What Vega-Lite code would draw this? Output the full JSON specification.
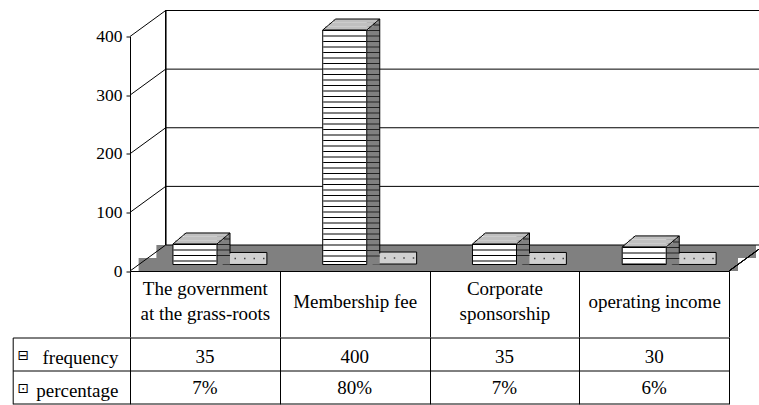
{
  "$schema": "https://vega.github.io/schema/vega-lite/v6.json",
  "background": "white",
  "padding": {"left": 12, "top": 8.5, "right": 0, "bottom": 0},
  "autosize": {"type": "pad"},
  "config": {"view": {"stroke": null}, "font": "Liberation Serif, Times New Roman, Times, serif"},
  "datasets": {
    "main": [
      {"category": "The government at the grass-roots", "freq": 35, "pct": 0.07},
      {"category": "Membership fee", "freq": 400, "pct": 0.8},
      {"category": "Corporate sponsorship", "freq": 35, "pct": 0.07},
      {"category": "operating income", "freq": 30, "pct": 0.06}
    ],
    "grid": [{"v": 0}, {"v": 100}, {"v": 200}, {"v": 300}, {"v": 400}]
  },
  "bounds": "flush",
  "spacing": 66,
  "vconcat": [
    {
      "width": 599,
      "height": 234.5,
      "data": {"name": "main"},
      "layer": [
        {
          "mark": {"type": "rect", "fill": "#808080", "xOffset": 8.9, "x2Offset": 8.9, "y2Offset": -13},
          "encoding": {
            "x": {"datum": "The government at the grass-roots", "bandPosition": 0, "type": "nominal"},
            "x2": {"datum": "operating income", "bandPosition": 1},
            "y": {"datum": 0, "type": "quantitative"},
            "y2": {"datum": 0}
          }
        },
        {
          "mark": {"type": "rect", "fill": "#808080", "xOffset": 26.8, "x2Offset": 26.8, "yOffset": -13, "y2Offset": -26},
          "encoding": {
            "x": {"datum": "The government at the grass-roots", "bandPosition": 0, "type": "nominal"},
            "x2": {"datum": "operating income", "bandPosition": 1},
            "y": {"datum": 0, "type": "quantitative"},
            "y2": {"datum": 0}
          }
        },
        {
          "data": {"name": "grid"},
          "mark": {"type": "rule", "color": "black", "strokeWidth": 1, "xOffset": 35.7, "x2Offset": 35.7, "yOffset": -26},
          "encoding": {
            "x": {"datum": "The government at the grass-roots", "bandPosition": 0, "type": "nominal"},
            "x2": {"datum": "operating income", "bandPosition": 1},
            "y": {"field": "v", "type": "quantitative", "title": null}
          }
        },
        {
          "mark": {"type": "rule", "color": "black", "strokeWidth": 1, "xOffset": 35.7, "yOffset": -26, "y2Offset": -26},
          "encoding": {
            "x": {"datum": "The government at the grass-roots", "bandPosition": 0, "type": "nominal"},
            "y": {"datum": 0, "type": "quantitative"},
            "y2": {"datum": 400}
          }
        },
        {
          "data": {"name": "grid"},
          "mark": {"type": "rule", "color": "black", "strokeWidth": 1, "x2Offset": 35.7, "y2Offset": -26},
          "encoding": {
            "x": {"datum": "The government at the grass-roots", "bandPosition": 0, "type": "nominal"},
            "x2": {"datum": "The government at the grass-roots", "bandPosition": 0},
            "y": {"field": "v", "type": "quantitative", "title": null},
            "y2": {"field": "v"}
          }
        },
        {
          "mark": {"type": "rule", "color": "black", "strokeWidth": 1, "x2Offset": 35.7, "y2Offset": -26},
          "encoding": {
            "x": {"datum": "operating income", "bandPosition": 1, "type": "nominal"},
            "x2": {"datum": "operating income", "bandPosition": 1},
            "y": {"datum": 0, "type": "quantitative"},
            "y2": {"datum": 0}
          }
        },
        {
          "mark": {"type": "tick", "orient": "horizontal", "thickness": 12, "size": 44, "xOffset": 40, "yOffset": -12.5, "fill": "#d0d0d0", "stroke": "black", "strokeWidth": 1, "opacity": 1},
          "encoding": {
            "x": {"field": "category", "type": "nominal", "title": null},
            "y": {"field": "pct", "type": "quantitative", "title": null}
          }
        },
        {
          "mark": {"type": "rule", "stroke": "#444444", "strokeWidth": 1.5, "strokeDash": [1.5, 8], "xOffset": 95, "x2Offset": 135, "yOffset": -12.5},
          "encoding": {
            "x": {"field": "category", "type": "nominal", "bandPosition": 0, "title": null},
            "x2": {"field": "category", "bandPosition": 0},
            "y": {"field": "pct", "type": "quantitative", "title": null}
          }
        },
        {
          "mark": {"type": "bar", "width": {"band": 0.0868}, "xOffset": 18.6, "yOffset": -17.5, "y2Offset": -6.5, "fill": "#808080"},
          "encoding": {
            "x": {
              "field": "category", "type": "nominal",
              "scale": {"type": "band", "domain": ["The government at the grass-roots", "Membership fee", "Corporate sponsorship", "operating income"], "paddingInner": 0, "paddingOuter": 0},
              "axis": {
                "orient": "bottom", "title": null, "tickBand": "extent", "tickSize": 66, "tickColor": "black", "tickWidth": 1,
                "domainColor": "black", "domainWidth": 1, "grid": false,
                "labelAngle": 0, "labelAlign": "center", "labelFont": "Liberation Serif, Times New Roman, Times, serif", "labelFontSize": 19, "labelColor": "black",
                "labelBaseline": "middle", "labelLineHeight": 25, "labelOffset": 0,
                "labelPadding": {"condition": {"test": "datum.value == 'The government at the grass-roots' || datum.value == 'Corporate sponsorship'", "value": -48.5}, "value": -36},
                "labelLimit": 0,
                "labelExpr": "datum.value == 'The government at the grass-roots' ? ['The government', 'at the grass-roots'] : datum.value == 'Corporate sponsorship' ? ['Corporate', 'sponsorship'] : datum.value"
              }
            },
            "y": {
              "field": "freq", "type": "quantitative",
              "scale": {"domain": [0, 400], "nice": false},
              "axis": {
                "title": null, "values": [0, 100, 200, 300, 400], "grid": false, "tickSize": 4, "tickColor": "black",
                "domainColor": "black", "labelFont": "Liberation Serif, Times New Roman, Times, serif", "labelFontSize": 17.5, "labelColor": "black", "labelPadding": 4
              }
            },
            "y2": {"datum": 0}
          }
        },
        {
          "mark": {"type": "rule", "stroke": "#222222", "strokeWidth": 13, "strokeDash": [1, 4.5], "xOffset": 18.6, "yOffset": -12, "y2Offset": -12},
          "encoding": {
            "x": {"field": "category", "type": "nominal", "title": null},
            "y": {"field": "freq", "type": "quantitative", "title": null},
            "y2": {"datum": 0}
          }
        },
        {
          "mark": {"type": "bar", "width": {"band": 0.294}, "xOffset": -7.73, "yOffset": -10.17, "y2Offset": -6.5, "fill": "#c0c0c0"},
          "encoding": {
            "x": {"field": "category", "type": "nominal", "title": null},
            "y": {"field": "freq", "type": "quantitative", "title": null},
            "y2": {"field": "freq"}
          }
        },
        {
          "mark": {"type": "bar", "width": {"band": 0.294}, "xOffset": -3.4, "yOffset": -13.83, "y2Offset": -10.17, "fill": "#c0c0c0"},
          "encoding": {
            "x": {"field": "category", "type": "nominal", "title": null},
            "y": {"field": "freq", "type": "quantitative", "title": null},
            "y2": {"field": "freq"}
          }
        },
        {
          "mark": {"type": "bar", "width": {"band": 0.294}, "xOffset": 0.93, "yOffset": -17.5, "y2Offset": -13.83, "fill": "#c0c0c0"},
          "encoding": {
            "x": {"field": "category", "type": "nominal", "title": null},
            "y": {"field": "freq", "type": "quantitative", "title": null},
            "y2": {"field": "freq"}
          }
        },
        {
          "mark": {"type": "bar", "width": {"band": 0.294}, "xOffset": -9.9, "yOffset": -6.5, "y2Offset": -6.5, "fill": "white", "stroke": "black", "strokeWidth": 1},
          "encoding": {
            "x": {"field": "category", "type": "nominal", "title": null},
            "y": {"field": "freq", "type": "quantitative", "title": null},
            "y2": {"datum": 0}
          }
        },
        {
          "mark": {"type": "rule", "stroke": "black", "strokeWidth": 43, "strokeDash": [1, 4.5], "xOffset": -9.9, "yOffset": -6.5, "y2Offset": -6.5},
          "encoding": {
            "x": {"field": "category", "type": "nominal", "title": null},
            "y": {"field": "freq", "type": "quantitative", "title": null},
            "y2": {"datum": 0}
          }
        },
        {
          "mark": {"type": "rule", "stroke": "black", "strokeWidth": 1, "xOffset": 56, "x2Offset": 100, "yOffset": -17.5},
          "encoding": {
            "x": {"field": "category", "type": "nominal", "bandPosition": 0, "title": null},
            "x2": {"field": "category", "bandPosition": 0},
            "y": {"field": "freq", "type": "quantitative", "title": null}
          }
        },
        {
          "mark": {"type": "rule", "stroke": "black", "strokeWidth": 1, "xOffset": 43, "x2Offset": 56, "yOffset": -6.5, "y2Offset": -17.5},
          "encoding": {
            "x": {"field": "category", "type": "nominal", "bandPosition": 0, "title": null},
            "x2": {"field": "category", "bandPosition": 0},
            "y": {"field": "freq", "type": "quantitative", "title": null},
            "y2": {"field": "freq"}
          }
        },
        {
          "mark": {"type": "rule", "stroke": "black", "strokeWidth": 1, "xOffset": 87, "x2Offset": 100, "yOffset": -6.5, "y2Offset": -17.5},
          "encoding": {
            "x": {"field": "category", "type": "nominal", "bandPosition": 0, "title": null},
            "x2": {"field": "category", "bandPosition": 0},
            "y": {"field": "freq", "type": "quantitative", "title": null},
            "y2": {"field": "freq"}
          }
        },
        {
          "mark": {"type": "rule", "stroke": "black", "strokeWidth": 1, "xOffset": 100, "yOffset": -17.5, "y2Offset": -17.5},
          "encoding": {
            "x": {"field": "category", "type": "nominal", "bandPosition": 0, "title": null},
            "y": {"field": "freq", "type": "quantitative", "title": null},
            "y2": {"datum": 0}
          }
        }
      ]
    },
    {
      "width": 599,
      "height": 66.4,
      "data": {"name": "main"},
      "encoding": {
        "x": {
          "field": "category", "type": "nominal",
          "scale": {"type": "band", "domain": ["The government at the grass-roots", "Membership fee", "Corporate sponsorship", "operating income"], "paddingInner": 0, "paddingOuter": 0},
          "axis": {"orient": "top", "title": null, "tickBand": "extent", "grid": true, "gridColor": "black", "gridOpacity": 1, "gridWidth": 1, "ticks": false, "labels": false, "domain": false}
        }
      },
      "layer": [
        {
          "mark": {"type": "text", "font": "Liberation Serif, Times New Roman, Times, serif", "fontSize": 19, "fill": "black", "baseline": "middle", "dy": 3},
          "encoding": {
            "y": {
              "datum": "frequency", "type": "nominal",
              "scale": {"type": "band", "domain": ["frequency", "percentage"], "paddingInner": 0, "paddingOuter": 0},
              "axis": {
                "orient": "left", "title": null, "tickBand": "extent", "tickSize": 117.3, "tickColor": "black", "tickWidth": 1,
                "grid": true, "gridColor": "black", "gridOpacity": 1, "gridWidth": 1, "domain": false,
                "labelAlign": "right", "labelBaseline": "middle", "labelPadding": -105.3, "labelOffset": 3,
                "labelFont": "Liberation Serif, Times New Roman, Times, serif", "labelFontSize": 19, "labelColor": "black"
              }
            },
            "text": {"field": "freq", "type": "quantitative"}
          }
        },
        {
          "mark": {"type": "text", "font": "Liberation Serif, Times New Roman, Times, serif", "fontSize": 19, "fill": "black", "baseline": "middle", "dy": 1},
          "encoding": {
            "y": {
              "datum": "percentage", "type": "nominal",
              "axis": {
                "orient": "left", "title": null, "offset": 117.3, "domain": true, "domainColor": "black", "domainWidth": 1,
                "ticks": false, "grid": false, "labelAlign": "left", "labelBaseline": "middle", "labelPadding": -4.3, "labelOffset": 2,
                "labelFont": "DejaVu Sans", "labelFontSize": 14, "labelColor": "black",
                "labelExpr": "datum.value == 'frequency' ? '⊟' : '⊡'"
              }
            },
            "text": {"field": "pct", "type": "quantitative", "format": ".0%"}
          }
        }
      ],
      "resolve": {"axis": {"y": "independent"}}
    }
  ]
}
